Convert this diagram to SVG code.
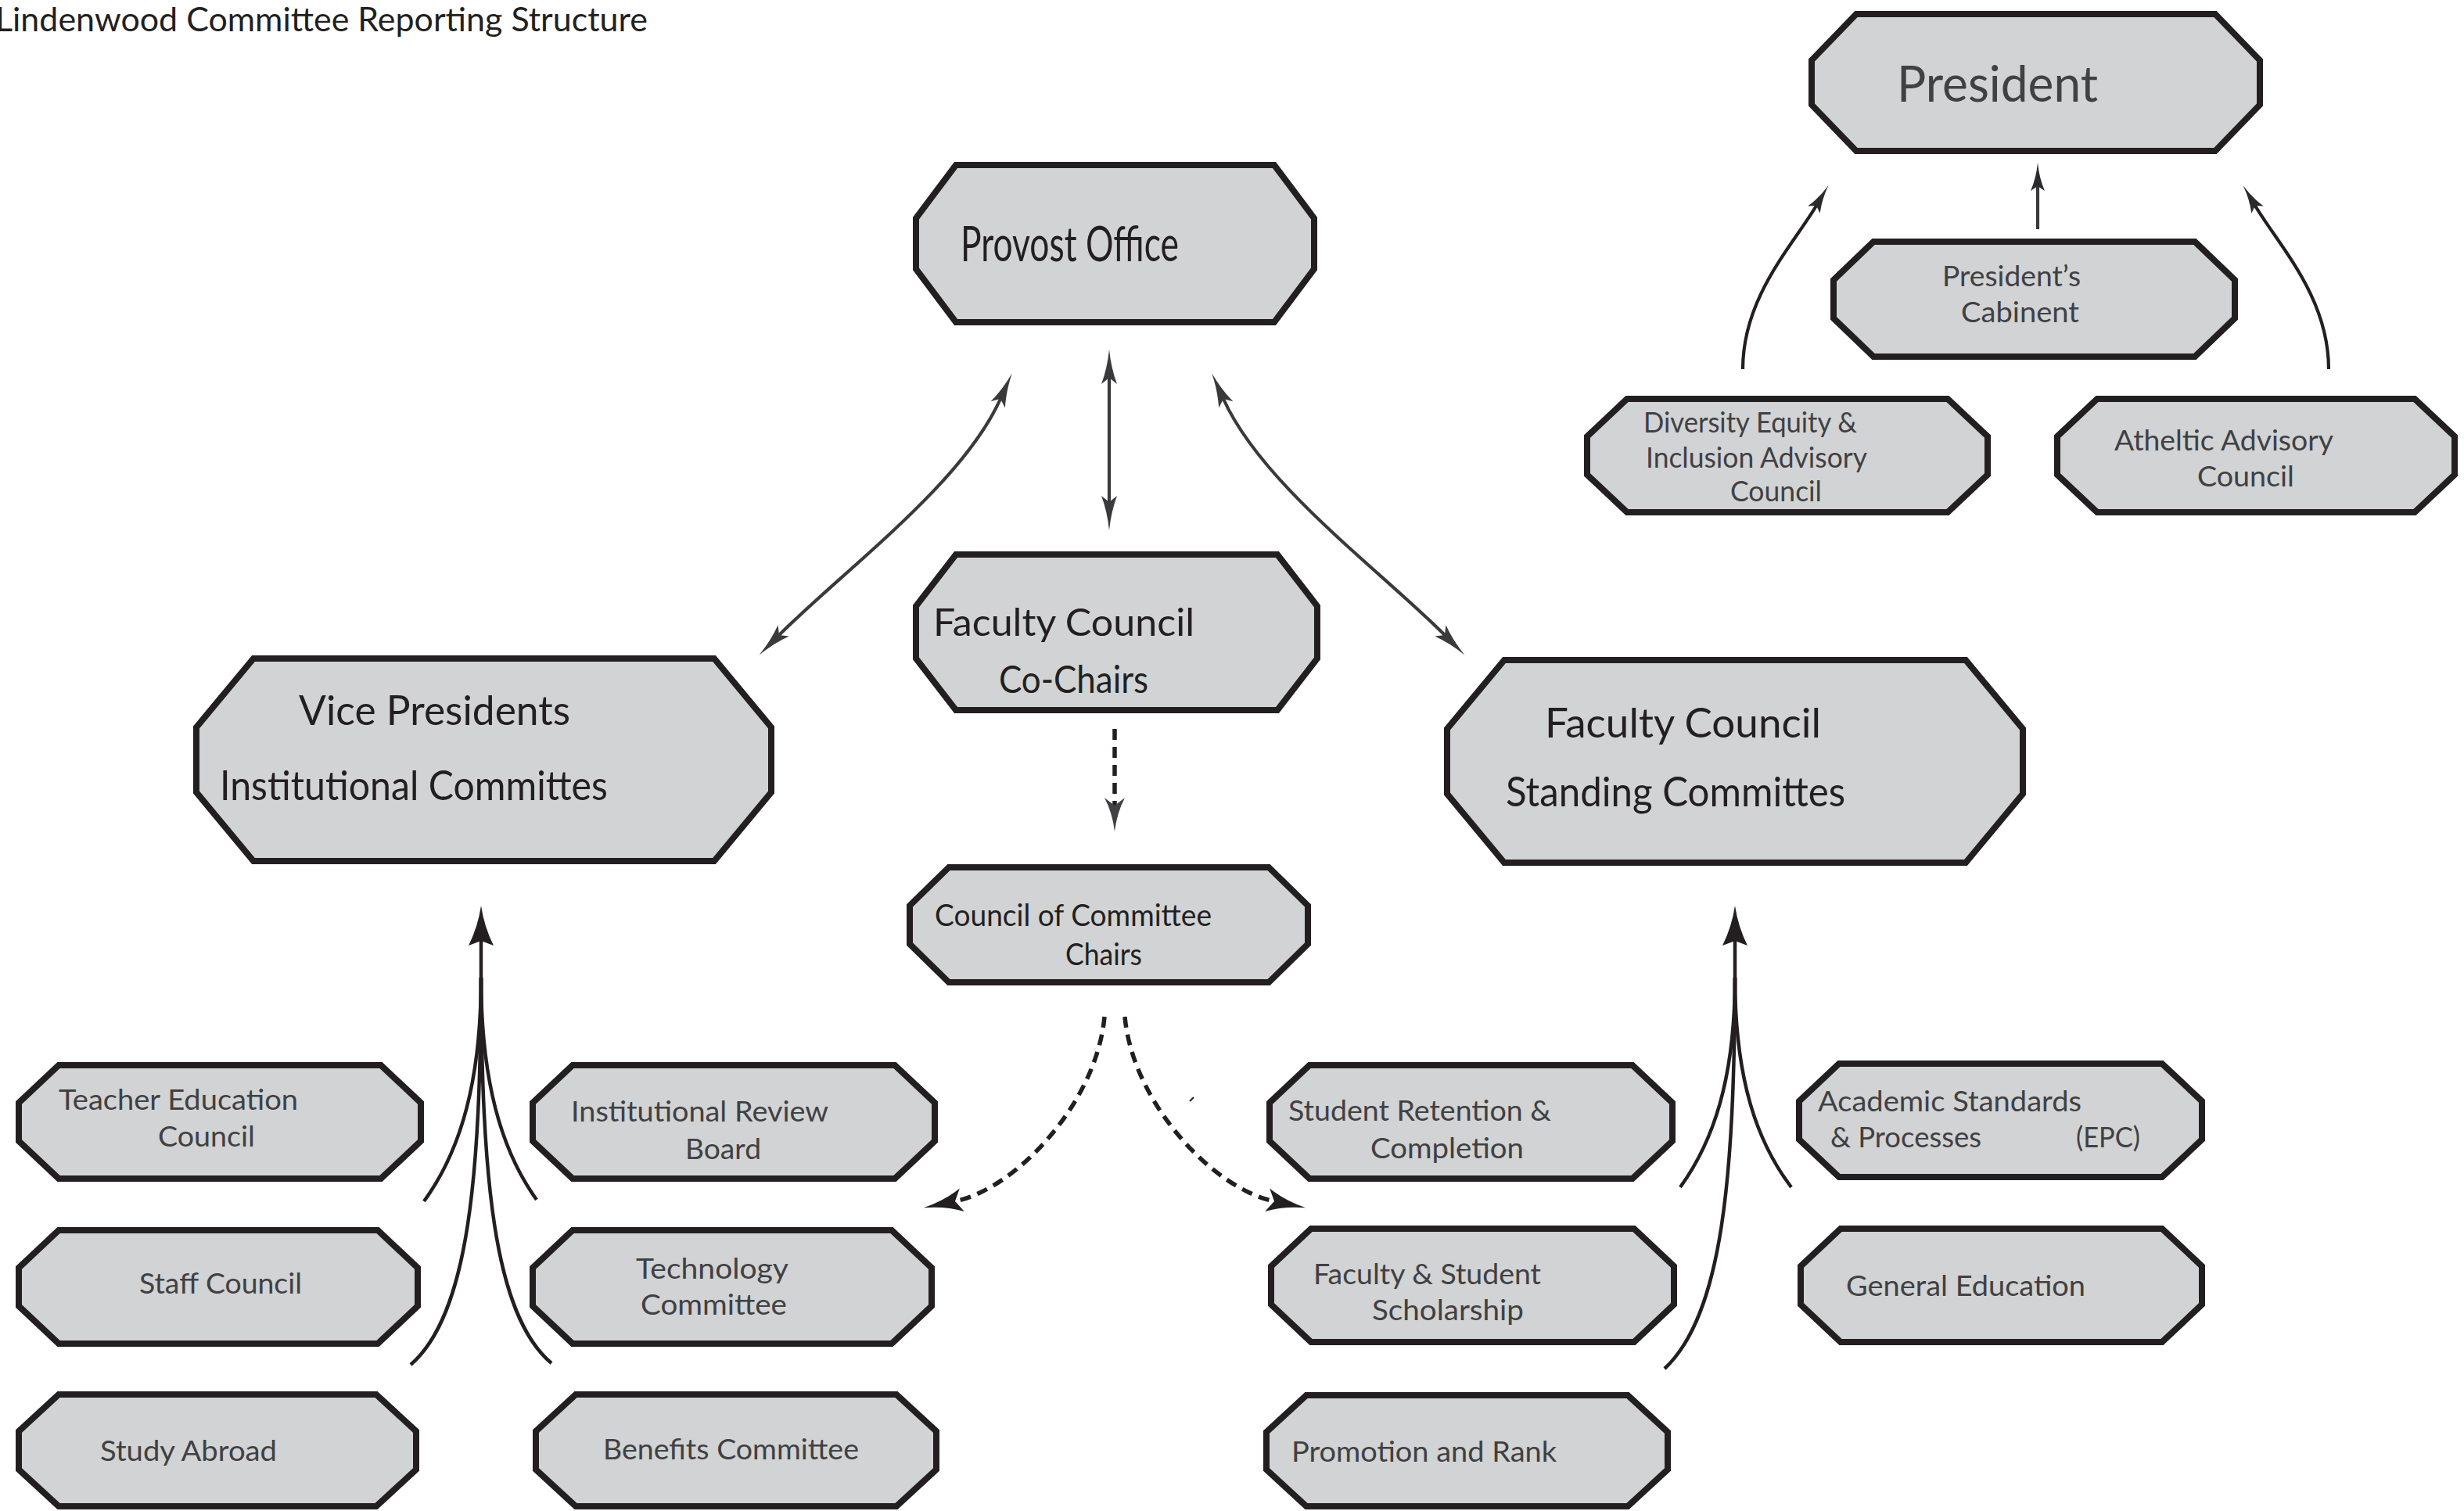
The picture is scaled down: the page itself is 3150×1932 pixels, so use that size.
<svg xmlns="http://www.w3.org/2000/svg" width="3150" height="1932" viewBox="0 0 3150 1932">
<style>
.n{fill:#d1d3d4;stroke:#231f20;stroke-width:8;stroke-linejoin:miter}
text{font-family:Lato,"Open Sans","Liberation Sans",sans-serif}
.t{fill:#414042;font-size:36px}
.tk{fill:#231f20}
.c{fill:none;stroke:#3a3a3c;stroke-width:4.2}
.ck{fill:none;stroke:#231f20;stroke-width:4.2}
.f{fill:none;stroke:#231f20;stroke-width:4.5}
.d{fill:none;stroke:#231f20;stroke-width:5.5;stroke-dasharray:14 9}
</style>
<defs>
<marker id="mThin" markerUnits="userSpaceOnUse" viewBox="0 -12 50 24" markerWidth="50" markerHeight="24" refX="8" refY="0" orient="auto-start-reverse" overflow="visible">
<path d="M44,0 Q20,-2.5 0,-10 L8,0 L0,10 Q20,2.5 44,0 Z" fill="#3a3a3c"/>
</marker>
<marker id="mPres" markerUnits="userSpaceOnUse" viewBox="0 -10 40 20" markerWidth="40" markerHeight="20" refX="6" refY="0" orient="auto-start-reverse" overflow="visible">
<path d="M36,0 Q16,-2 0,-9 L6,0 L0,9 Q16,2 36,0 Z" fill="#2b2a2c"/>
</marker>
<marker id="mDash" markerUnits="userSpaceOnUse" viewBox="0 -16 52 32" markerWidth="52" markerHeight="32" refX="9" refY="0" orient="auto" overflow="visible">
<path d="M50,0 Q22,-3.5 0,-15 L9,0 L0,15 Q22,3.5 50,0 Z" fill="#231f20"/>
</marker>
<marker id="mDashV" markerUnits="userSpaceOnUse" viewBox="0 -14 46 28" markerWidth="46" markerHeight="28" refX="10" refY="0" orient="auto" overflow="visible">
<path d="M43,0 Q19,-3 0,-13 L10,0 L0,13 Q19,3 43,0 Z" fill="#414042"/>
</marker>
<marker id="mBig" markerUnits="userSpaceOnUse" viewBox="0 -17 54 34" markerWidth="54" markerHeight="34" refX="6" refY="0" orient="auto" overflow="visible">
<path d="M51,0 Q24,-4 0,-16 L6,0 L0,16 Q24,4 51,0 Z" fill="#231f20"/>
</marker>
</defs>
<rect width="3150" height="1932" fill="#ffffff"/>
<text id="title" x="-6" y="40" font-size="42" class="tk" textLength="834" lengthAdjust="spacingAndGlyphs">Lindenwood Committee Reporting Structure</text>

<g id="connectors">
<path class="c" d="M1418,483 L1418,642" marker-start="url(#mThin)" marker-end="url(#mThin)"/>
<path class="c" d="M1279,510 C1230,619 1080,728 996,812" marker-start="url(#mThin)" marker-end="url(#mThin)"/>
<path class="c" d="M1564,510 C1613,619 1763,728 1847,812" marker-start="url(#mThin)" marker-end="url(#mThin)"/>
<path class="d" d="M1425,932 L1425,1030" stroke-dasharray="13 8" marker-end="url(#mDashV)"/>
<path class="d" d="M1412,1300 C1402,1410 1299,1520 1221,1536" marker-end="url(#mDash)"/>
<path class="d" d="M1438,1300 C1448,1410 1551,1520 1629,1536" marker-end="url(#mDash)"/>
<path class="c" d="M2605,293 L2605,238" marker-end="url(#mPres)"/>
<path class="ck" d="M2228,472 C2228,380 2291,315 2322,263" marker-end="url(#mPres)"/>
<path class="ck" d="M2977,472 C2977,380 2914,315 2883,263" marker-end="url(#mPres)"/>
<path class="f" d="M615,1300 L615,1203" marker-end="url(#mBig)"/>
<path class="f" d="M615,1250 C615,1380 590,1470 542,1536"/>
<path class="f" d="M615,1250 C615,1380 640,1470 686,1534"/>
<path class="f" d="M615,1250 C614,1500 600,1680 525,1745"/>
<path class="f" d="M615,1250 C616,1500 630,1680 705,1743"/>
<path class="f" d="M2218,1300 L2218,1203" marker-end="url(#mBig)"/>
<path class="f" d="M2218,1250 C2218,1380 2190,1460 2148,1518"/>
<path class="f" d="M2218,1250 C2218,1380 2246,1460 2290,1518"/>
<path class="f" d="M2218,1250 C2217,1500 2203,1680 2128,1750"/>
<path d="M1521,1408 L1526,1403" stroke="#231f20" stroke-width="2" fill="none"/>
</g>

<g id="president">
<polygon class="n" points="2373,18 2832,18 2889,77 2889,134 2832,193 2373,193 2316,134 2316,77"/>
<text x="2425" y="130" font-size="64" fill="#414042" textLength="257" lengthAdjust="spacingAndGlyphs">President</text>
</g>
<g id="cabinet">
<polygon class="n" points="2395,309 2806,309 2857,358 2857,407 2806,456 2395,456 2344,407 2344,358"/>
<text class="t" x="2483" y="366" font-size="34" textLength="177" lengthAdjust="spacingAndGlyphs">President’s</text>
<text class="t" x="2507" y="412" font-size="34" textLength="151" lengthAdjust="spacingAndGlyphs">Cabinent</text>
</g>
<g id="dei">
<polygon class="n" points="2080,510 2490,510 2541,558 2541,607 2490,655 2080,655 2029,607 2029,558"/>
<text class="t" x="2101" y="553" font-size="34" textLength="273" lengthAdjust="spacingAndGlyphs">Diversity Equity &amp;</text>
<text class="t" x="2104" y="598" font-size="34" textLength="283" lengthAdjust="spacingAndGlyphs">Inclusion Advisory</text>
<text class="t" x="2212" y="641" font-size="34" textLength="117" lengthAdjust="spacingAndGlyphs">Council</text>
</g>
<g id="athletic">
<polygon class="n" points="2681,510 3087,510 3138,558 3138,607 3087,655 2681,655 2630,607 2630,558"/>
<text class="t" x="2703" y="576" font-size="34" textLength="280" lengthAdjust="spacingAndGlyphs">Atheltic Advisory</text>
<text class="t" x="2809" y="622" font-size="34" textLength="124" lengthAdjust="spacingAndGlyphs">Council</text>
</g>
<g id="provost">
<polygon class="n" points="1222,211 1629,211 1680,279 1680,344 1629,412 1222,412 1171,344 1171,279"/>
<text class="tk" x="1228" y="334" font-size="62" textLength="279" lengthAdjust="spacingAndGlyphs">Provost Office</text>
</g>
<g id="fc-cochairs">
<polygon class="n" points="1222,709 1633,709 1684,775 1684,842 1633,908 1222,908 1171,842 1171,775"/>
<text class="tk" x="1193" y="813" font-size="48" textLength="334" lengthAdjust="spacingAndGlyphs">Faculty Council</text>
<text class="tk" x="1277" y="886" font-size="48" textLength="191" lengthAdjust="spacingAndGlyphs">Co-Chairs</text>
</g>
<g id="council-chairs">
<polygon class="n" points="1213,1109 1622,1109 1672,1158 1672,1207 1622,1256 1213,1256 1163,1207 1163,1158"/>
<text class="tk" x="1195" y="1184" font-size="38" textLength="354" lengthAdjust="spacingAndGlyphs">Council of Committee</text>
<text class="tk" x="1362" y="1234" font-size="38" textLength="98" lengthAdjust="spacingAndGlyphs">Chairs</text>
</g>
<g id="vp">
<polygon class="n" points="324,842 913,842 986,930 986,1013 913,1101 324,1101 251,1013 251,930"/>
<text class="tk" x="382" y="927" font-size="53" textLength="347" lengthAdjust="spacingAndGlyphs">Vice Presidents</text>
<text class="tk" x="281" y="1023" font-size="53" textLength="496" lengthAdjust="spacingAndGlyphs">Institutional Committes</text>
</g>
<g id="fc-standing">
<polygon class="n" points="1923,844 2513,844 2586,932 2586,1015 2513,1103 1923,1103 1850,1015 1850,932"/>
<text class="tk" x="1975" y="943" font-size="53" textLength="353" lengthAdjust="spacingAndGlyphs">Faculty Council</text>
<text class="tk" x="1925" y="1031" font-size="53" textLength="434" lengthAdjust="spacingAndGlyphs">Standing Committes</text>
</g>
<g id="teacher-ed">
<polygon class="n" points="75,1362 487,1362 538,1410 538,1459 487,1507 75,1507 24,1459 24,1410"/>
<text class="t" x="75" y="1419" textLength="306" lengthAdjust="spacingAndGlyphs">Teacher Education</text>
<text class="t" x="202" y="1466" textLength="124" lengthAdjust="spacingAndGlyphs">Council</text>
</g>
<g id="irb">
<polygon class="n" points="732,1362 1144,1362 1195,1410 1195,1459 1144,1507 732,1507 681,1459 681,1410"/>
<text class="t" x="730" y="1434" textLength="329" lengthAdjust="spacingAndGlyphs">Institutional Review</text>
<text class="t" x="876" y="1482" textLength="97" lengthAdjust="spacingAndGlyphs">Board</text>
</g>
<g id="staff">
<polygon class="n" points="75,1573 483,1573 534,1621 534,1670 483,1718 75,1718 24,1670 24,1621"/>
<text class="t" x="178" y="1654" textLength="208" lengthAdjust="spacingAndGlyphs">Staff Council</text>
</g>
<g id="technology">
<polygon class="n" points="732,1573 1140,1573 1191,1621 1191,1670 1140,1718 732,1718 681,1670 681,1621"/>
<text class="t" x="813" y="1635" textLength="195" lengthAdjust="spacingAndGlyphs">Technology</text>
<text class="t" x="819" y="1681" textLength="187" lengthAdjust="spacingAndGlyphs">Committee</text>
</g>
<g id="study-abroad">
<polygon class="n" points="75,1783 481,1783 532,1830 532,1879 481,1926 75,1926 24,1879 24,1830"/>
<text class="t" x="128" y="1868" textLength="226" lengthAdjust="spacingAndGlyphs">Study Abroad</text>
</g>
<g id="benefits">
<polygon class="n" points="736,1783 1146,1783 1197,1830 1197,1879 1146,1926 736,1926 685,1879 685,1830"/>
<text class="t" x="771" y="1866" textLength="327" lengthAdjust="spacingAndGlyphs">Benefits Committee</text>
</g>
<g id="retention">
<polygon class="n" points="1674,1362 2087,1362 2138,1410 2138,1459 2087,1507 1674,1507 1623,1459 1623,1410"/>
<text class="t" x="1647" y="1433" textLength="336" lengthAdjust="spacingAndGlyphs">Student Retention &amp;</text>
<text class="t" x="1752" y="1481" textLength="196" lengthAdjust="spacingAndGlyphs">Completion</text>
</g>
<g id="scholarship">
<polygon class="n" points="1676,1571 2089,1571 2140,1619 2140,1668 2089,1716 1676,1716 1625,1668 1625,1619"/>
<text class="t" x="1679" y="1642" textLength="291" lengthAdjust="spacingAndGlyphs">Faculty &amp; Student</text>
<text class="t" x="1754" y="1688" textLength="194" lengthAdjust="spacingAndGlyphs">Scholarship</text>
</g>
<g id="promotion">
<polygon class="n" points="1670,1784 2081,1784 2132,1831 2132,1879 2081,1926 1670,1926 1619,1879 1619,1831"/>
<text class="t" x="1651" y="1869" textLength="339" lengthAdjust="spacingAndGlyphs">Promotion and Rank</text>
</g>
<g id="academic-standards">
<polygon class="n" points="2351,1360 2764,1360 2815,1408 2815,1457 2764,1505 2351,1505 2300,1457 2300,1408"/>
<text class="t" x="2324" y="1421" textLength="337" lengthAdjust="spacingAndGlyphs">Academic Standards</text>
<text class="t" x="2340" y="1467" textLength="193" lengthAdjust="spacingAndGlyphs">&amp; Processes</text>
<text class="t" x="2654" y="1467" textLength="82" lengthAdjust="spacingAndGlyphs">(EPC)</text>
</g>
<g id="gen-ed">
<polygon class="n" points="2353,1571 2764,1571 2815,1619 2815,1668 2764,1716 2353,1716 2302,1668 2302,1619"/>
<text class="t" x="2360" y="1657" textLength="306" lengthAdjust="spacingAndGlyphs">General Education</text>
</g>
</svg>
